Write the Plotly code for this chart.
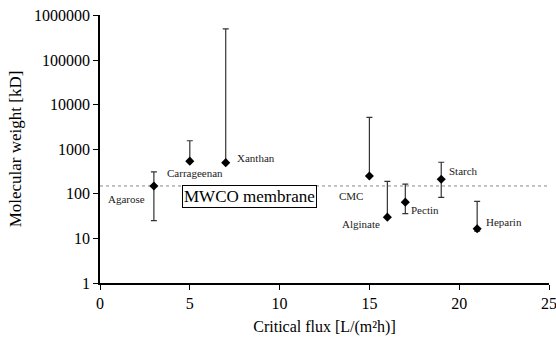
import math
import plotly.graph_objects as go

names = ["Agarose", "Carrageenan", "Xanthan", "CMC", "Alginate", "Pectin", "Starch", "Heparin"]
flux = [3, 5, 7, 15, 16, 17, 19, 21]
mw = [150, 540, 500, 250, 30, 65, 212, 16.5]
mw_high = [310, 1550, 500000, 5200, 190, 165, 510, 68]
mw_low = [25, 540, 500, 250, 30, 36, 83, 14.5]
mwco = 150
x_ticks = [0, 5, 10, 15, 20, 25]
y_ticks = [1, 10, 100, 1000, 10000, 100000, 1000000]
y_tick_text = ["1", "10", "100", "1000", "10000", "100000", "1000000"]

# label positions (data coords) and anchors
label_pos = {
    "Agarose": (2.6, 78, "right"),
    "Carrageenan": (5.3, 300, "center"),
    "Xanthan": (7.5, 640, "left"),
    "CMC": (14.0, 90, "center"),
    "Alginate": (15.7, 21, "right"),
    "Pectin": (17.2, 43, "left"),
    "Starch": (19.3, 320, "left"),
    "Heparin": (21.4, 23, "left"),
}

fig = go.Figure()
fig.add_shape(type="line", xref="x", yref="y", x0=0, x1=25, y0=mwco, y1=mwco,
              line=dict(color="#888888", width=1, dash="dot"), layer="below")

fig.add_trace(go.Scatter(
    x=flux, y=mw, mode="markers",
    marker=dict(symbol="diamond", size=7, color="black"),
    error_y=dict(
        type="data", symmetric=False,
        array=[h - v for h, v in zip(mw_high, mw)],
        arrayminus=[v - l for v, l in zip(mw, mw_low)],
        color="#333333", thickness=1.2, width=3,
    ),
    showlegend=False,
))

SERIF = "Liberation Serif, Times New Roman, serif"

for n in names:
    x, y, anc = label_pos[n]
    fig.add_annotation(x=x, y=math.log10(y), xref="x", yref="y", text=n, showarrow=False,
                       xanchor=anc, yanchor="middle",
                       font=dict(family=SERIF, size=11, color="#222222"))

fig.add_annotation(x=(4.5 + 12.2) / 2, y=math.log10(86), xref="x", yref="y", text="MWCO membrane",
                   showarrow=False, xanchor="center", yanchor="middle",
                   font=dict(family=SERIF, size=17, color="black"),
                   bordercolor="black", borderwidth=1, borderpad=1, bgcolor="white")

fig.update_layout(
    width=556, height=338,
    margin=dict(l=100, r=7, t=15, b=55, autoexpand=False),
    paper_bgcolor="white", plot_bgcolor="white",
    font=dict(family=SERIF, size=16, color="black"),
    xaxis=dict(range=[0, 25], tickvals=x_ticks, showline=True, linecolor="black",
               linewidth=1.5, ticks="outside", ticklen=5, tickcolor="black",
               showgrid=False, zeroline=False, automargin=False,
               tickfont=dict(size=16), ticklabeloverflow="allow",
               title=dict(text="Critical flux [L/(m²h)]", standoff=10,
                          font=dict(size=16))),
    yaxis=dict(type="log", range=[0, 6.01], tickvals=y_ticks, ticktext=y_tick_text,
               showline=True, linecolor="black", linewidth=1.5, ticks="outside",
               ticklen=5, tickcolor="black", showgrid=False, zeroline=False,
               automargin=False, tickfont=dict(size=16),
               title=dict(text="Molecular weight [kD]", standoff=8,
                          font=dict(size=17))),
)

fig.write_html("out.html")
